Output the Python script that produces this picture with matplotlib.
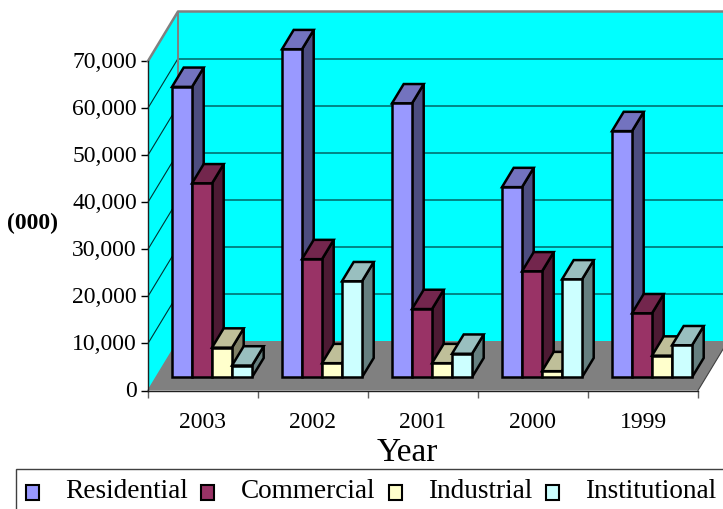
#!/usr/bin/env python3
import matplotlib
matplotlib.use('Agg')
import matplotlib.pyplot as plt
from matplotlib.patches import Patch, Polygon
from matplotlib.ticker import StrMethodFormatter
from matplotlib.transforms import ScaledTranslation

years = ['2003', '2002', '2001', '2000', '1999']
residential = [61700, 69700, 58200, 40400, 52300]
commercial = [41200, 25100, 14500, 22500, 13600]
industrial = [6300, 3000, 3000, 1300, 4600]
institutional = [2500, 20400, 5000, 20800, 6800]
series_names = ['Residential', 'Commercial', 'Industrial', 'Institutional']
series_values = [residential, commercial, industrial, institutional]
front_colors = ['#9999FF', '#993366', '#FFFFCC', '#CCFFFF']
top_colors = ['#7373BF', '#73264D', '#BFBF99', '#99BFBF']
side_colors = ['#4D4D80', '#4D1A33', '#808066', '#668080']

plt.rcParams['font.family'] = ['Liberation Serif', 'DejaVu Serif']

W, H = 723, 510
fig = plt.figure(figsize=(W / 100, H / 100), dpi=100)
ax = fig.add_axes([148 / W, 1 - 391.5 / H, 550 / W, 329.5 / H])
ax.set_xlim(0, 5)
ax.set_ylim(0, 70000)
ax.patch.set_visible(False)

# fake 3D: depth 0 is the front plane, depth 1 the back wall
DX = 30 / 110
DY = 49.5 * 70000 / 329.5


def pt(x, y, d):
    return (x + d * DX, y + d * DY)


def poly(points, face, edge='none', lw=0, z=1):
    ax.add_patch(Polygon(points, closed=True, facecolor=face, edgecolor=edge,
                         linewidth=lw, clip_on=False, zorder=z, joinstyle='miter'))


# walls and floor
poly([pt(0, 0, 0), pt(0, 0, 1), pt(0, 70000, 1), pt(0, 70000, 0)], '#00FFFF')
poly([pt(0, 0, 1), pt(5, 0, 1), pt(5, 70000, 1), pt(0, 70000, 1)], '#00FFFF')
poly([pt(0, 0, 0), pt(0, 0, 1), pt(5, 0, 1), pt(5, 0, 0)], '#808080')

for v in range(10000, 70000, 10000):
    a, b, c = pt(0, v, 0), pt(0, v, 1), pt(5, v, 1)
    ax.plot([a[0], b[0]], [a[1], b[1]], color='#003333', lw=0.8, clip_on=False, zorder=2)
    ax.plot([b[0], c[0]], [b[1], c[1]], color='#006666', lw=1.1, clip_on=False, zorder=2)

outline = [pt(0, 70000, 0), pt(0, 70000, 1), pt(5, 70000, 1)]
ax.plot(*zip(*outline), color='#808080', lw=1.8, clip_on=False, zorder=2)
ax.plot(*zip(pt(0, 0, 1), pt(0, 70000, 1)), color='#808080', lw=1.4, clip_on=False, zorder=2)
ax.plot(*zip(pt(0, 0, 0), pt(0, 0, 1)), color='#808080', lw=1, clip_on=False, zorder=2)
ax.plot(*zip(pt(5, 0, 0), pt(5, 0, 1)), color='#404040', lw=0.8, clip_on=False, zorder=2)

# bars
bar_w = 2 / 11
gap = 1.6 / 11
d0, d1 = 8 / 30, 19.7 / 30
edge_lw = 1.8
for i in range(len(years)):
    for s in range(len(series_names)):
        v = series_values[s][i]
        x0 = i + gap + s * bar_w
        x1 = x0 + bar_w
        poly([pt(x1, 0, d0), pt(x1, 0, d1), pt(x1, v, d1), pt(x1, v, d0)],
             side_colors[s], 'black', edge_lw, 3)
        poly([pt(x0, v, d0), pt(x0, v, d1), pt(x1, v, d1), pt(x1, v, d0)],
             top_colors[s], 'black', edge_lw, 3)
        poly([pt(x0, 0, d0), pt(x0, v, d0), pt(x1, v, d0), pt(x1, 0, d0)],
             front_colors[s], 'black', edge_lw, 3)

# axes
for name in ['top', 'right']:
    ax.spines[name].set_visible(False)
ax.spines['left'].set_linewidth(1.0)
ax.spines['left'].set_color('#202020')
ax.spines['bottom'].set_linewidth(1.0)
ax.spines['bottom'].set_color('#202020')
ax.set_xticks(range(6))
ax.set_xticklabels([])
ax.set_xticks([i + 0.5 for i in range(5)], minor=True)
ax.set_xticklabels(years, minor=True, fontsize=17)
ax.tick_params(axis='x', which='minor', length=0, pad=14.5)
ax.tick_params(axis='x', which='major', length=5, width=1, color='#606060')
ax.set_yticks(range(0, 70001, 10000))
ax.yaxis.set_major_formatter(StrMethodFormatter('{x:,.0f}'))
ax.tick_params(axis='y', length=5, width=1, pad=3, labelsize=17)

# tick labels sit a little above their ticks in the original
nudge = ScaledTranslation(0, 1.5 / 72, fig.dpi_scale_trans)
for lbl in ax.get_yticklabels():
    lbl.set_transform(lbl.get_transform() + nudge)

fig.text(407 / W, 1 - 453 / H, 'Year', fontsize=24, ha='center', va='center')
fig.text(32 / W, 1 - 223 / H, '(000)', fontsize=17, fontweight='bold', ha='center', va='center')

handles = [Patch(facecolor=c, edgecolor='black', linewidth=1.5) for c in front_colors]
leg = fig.legend(handles, series_names, loc='lower left', bbox_to_anchor=(16 / W, -4 / H),
                 bbox_transform=fig.transFigure, ncol=4, fontsize=19.6, frameon=True,
                 fancybox=False, edgecolor='#404040', framealpha=1, borderaxespad=0,
                 borderpad=0.35, handlelength=0.48, handleheight=0.48, handletextpad=0.97,
                 columnspacing=0.49)
leg.get_frame().set_linewidth(1.0)
for p in leg.get_patches():
    p.set_y(p.get_y() - 3.5)

fig.savefig('out.png', dpi=100)
